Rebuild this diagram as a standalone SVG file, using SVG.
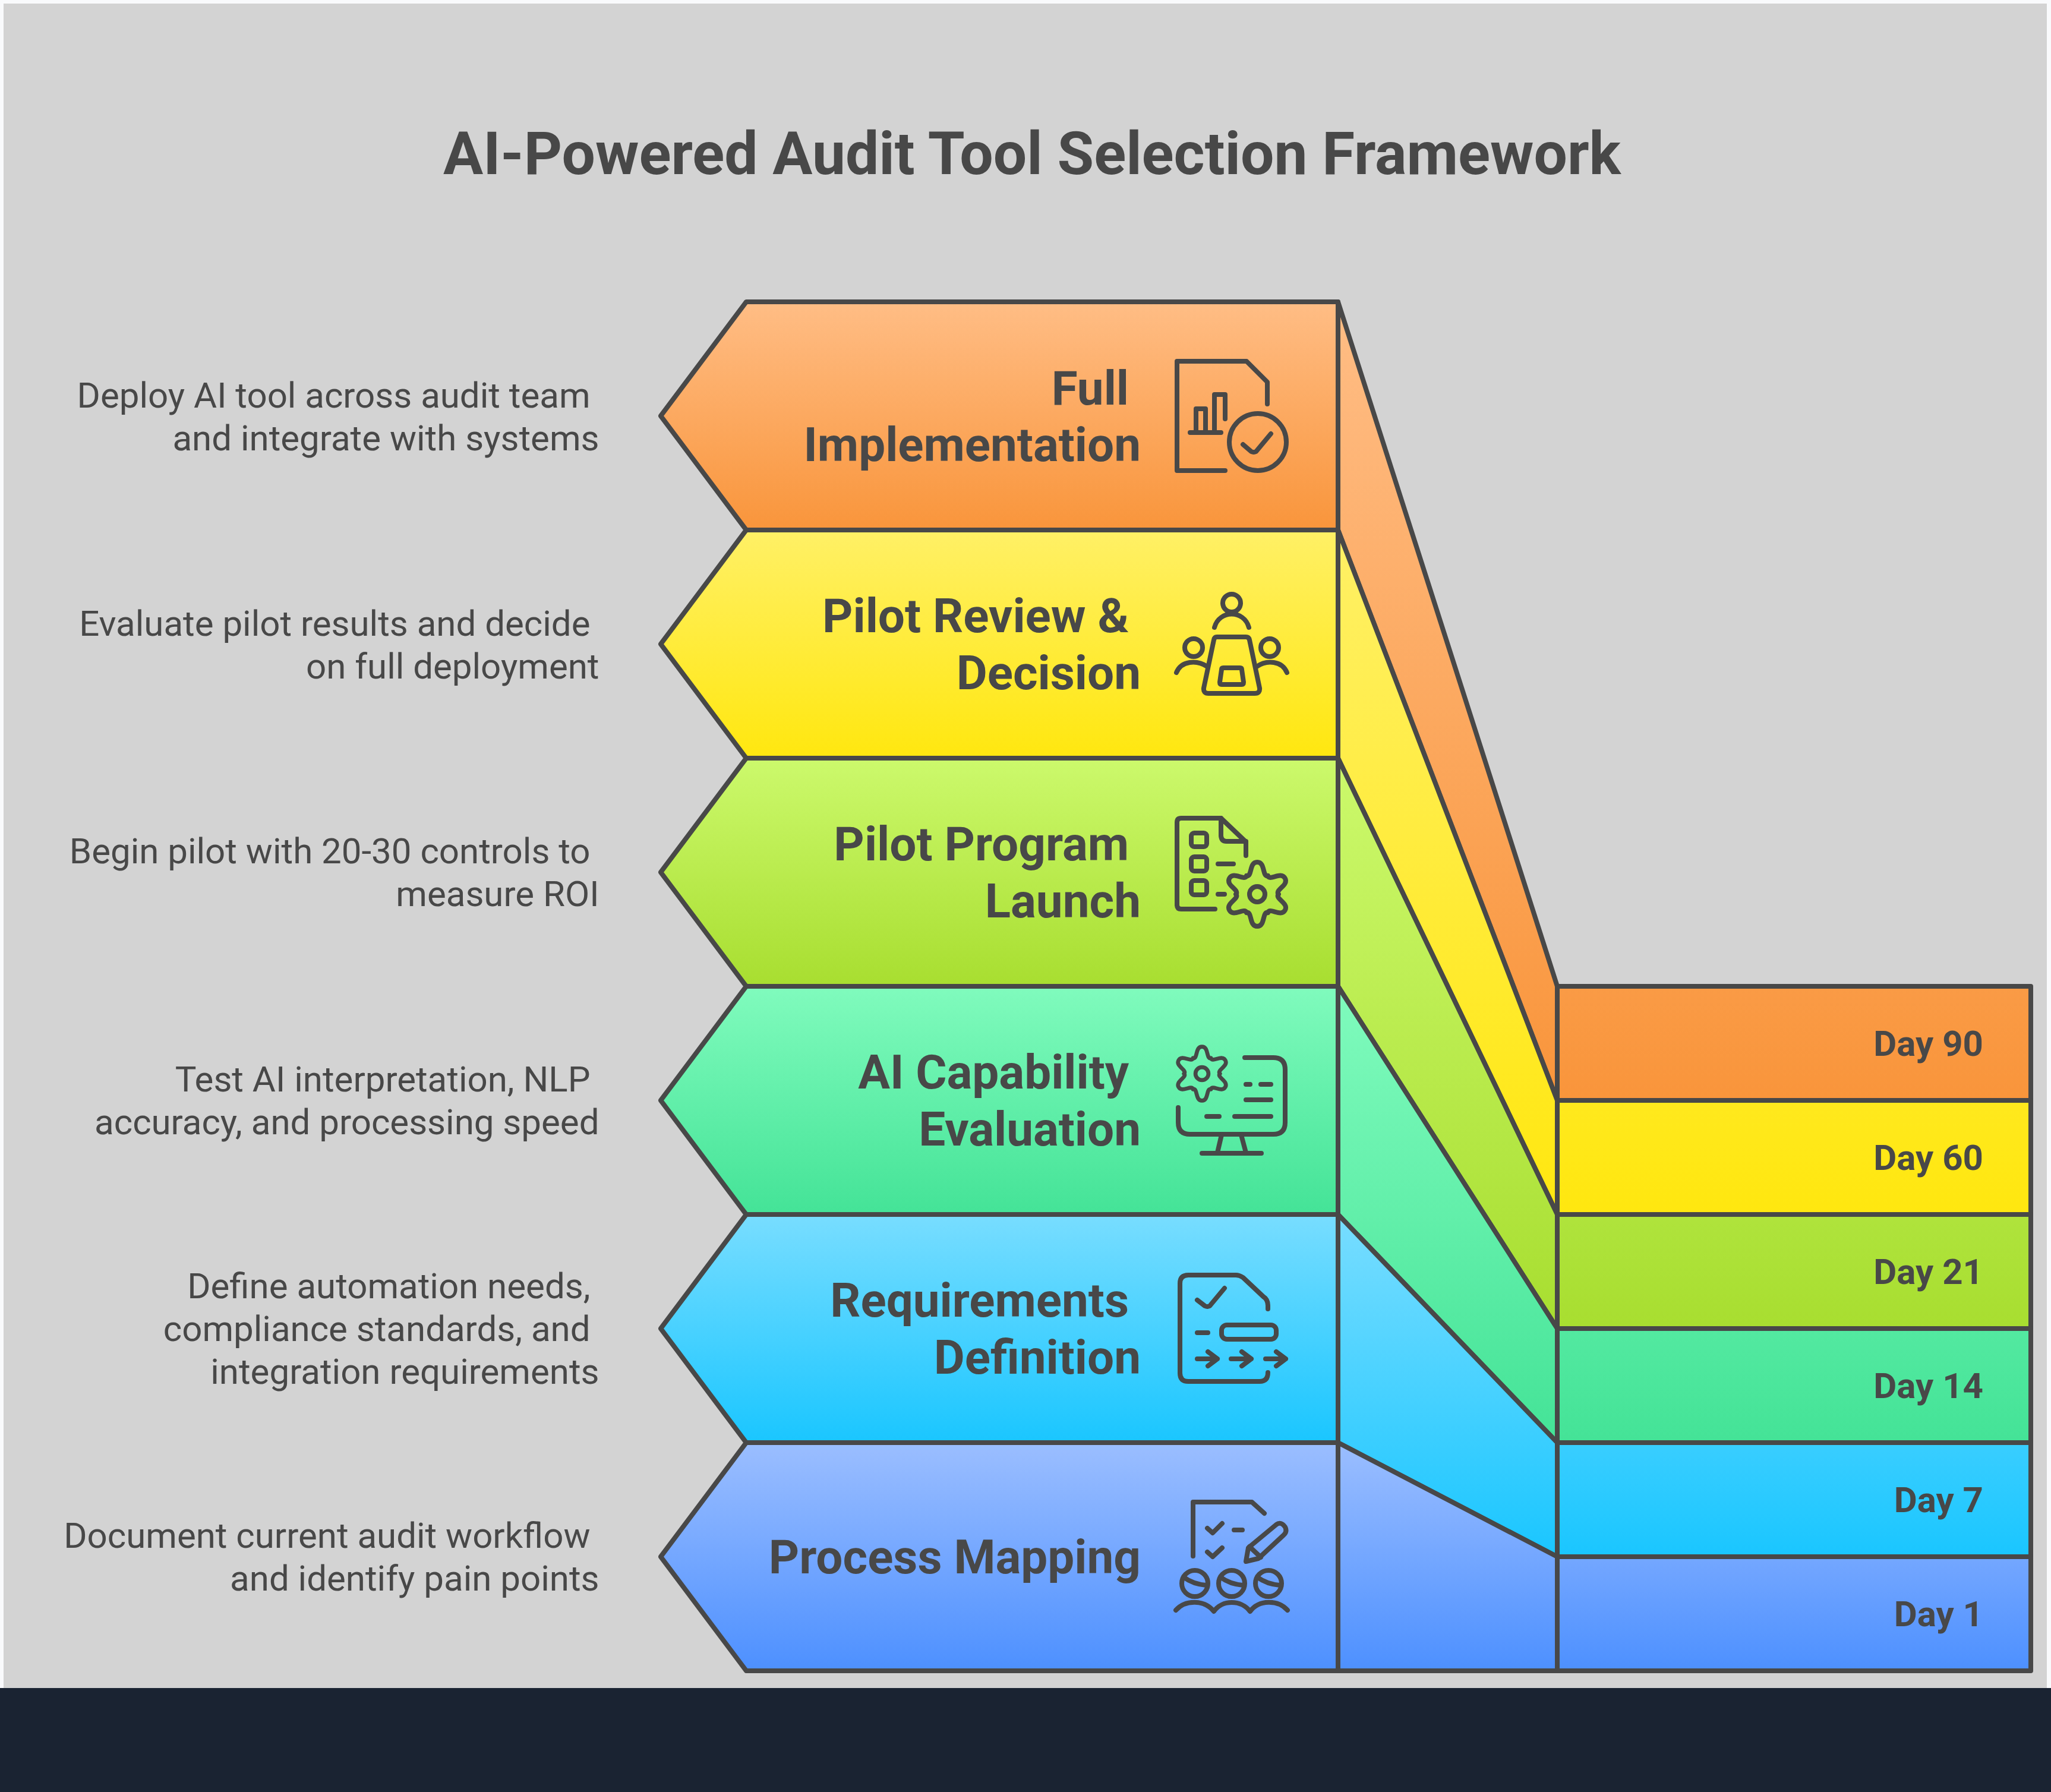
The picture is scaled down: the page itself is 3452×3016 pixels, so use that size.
<svg xmlns="http://www.w3.org/2000/svg" xmlns:xlink="http://www.w3.org/1999/xlink" width="3452" height="3016" viewBox="0 0 3452 3016">
<style>
.s{stroke:#484848;stroke-width:8;stroke-linejoin:round}
.i{fill:none;stroke:#484848;stroke-width:8;stroke-linecap:round;stroke-linejoin:round}
text{font-family:Roboto,"Liberation Sans",sans-serif;fill:#484848}
.t{font-size:100px;font-weight:700;text-anchor:middle}
.l{font-size:80px;font-weight:700;text-anchor:end}
.d{font-size:60px;font-weight:400;text-anchor:end}
.y{font-size:60px;font-weight:700;text-anchor:end}
</style>
<defs>
<linearGradient id="c1" x1="0" y1="0" x2="0" y2="1"><stop offset="0" stop-color="#FFBD85"/><stop offset="1" stop-color="#F9953B"/></linearGradient>
<linearGradient id="c2" x1="0" y1="0" x2="0" y2="1"><stop offset="0" stop-color="#FFF066"/><stop offset="1" stop-color="#FFE70F"/></linearGradient>
<linearGradient id="c3" x1="0" y1="0" x2="0" y2="1"><stop offset="0" stop-color="#CCF96C"/><stop offset="1" stop-color="#A8DE30"/></linearGradient>
<linearGradient id="c4" x1="0" y1="0" x2="0" y2="1"><stop offset="0" stop-color="#80FBBD"/><stop offset="1" stop-color="#44E397"/></linearGradient>
<linearGradient id="c5" x1="0" y1="0" x2="0" y2="1"><stop offset="0" stop-color="#78DDFF"/><stop offset="1" stop-color="#1AC6FF"/></linearGradient>
<linearGradient id="c6" x1="0" y1="0" x2="0" y2="1"><stop offset="0" stop-color="#9BBEFF"/><stop offset="1" stop-color="#4D90FF"/></linearGradient>
<linearGradient id="b1" gradientUnits="userSpaceOnUse" x1="0" y1="508" x2="0" y2="1852"><stop offset="0" stop-color="#FFBD85"/><stop offset="1" stop-color="#F9953B"/></linearGradient>
<linearGradient id="b2" gradientUnits="userSpaceOnUse" x1="0" y1="892" x2="0" y2="2044"><stop offset="0" stop-color="#FFF066"/><stop offset="1" stop-color="#FFE70F"/></linearGradient>
<linearGradient id="b3" gradientUnits="userSpaceOnUse" x1="0" y1="1276" x2="0" y2="2236"><stop offset="0" stop-color="#CCF96C"/><stop offset="1" stop-color="#A8DE30"/></linearGradient>
<linearGradient id="b4" gradientUnits="userSpaceOnUse" x1="0" y1="1660" x2="0" y2="2428"><stop offset="0" stop-color="#80FBBD"/><stop offset="1" stop-color="#44E397"/></linearGradient>
<linearGradient id="b5" gradientUnits="userSpaceOnUse" x1="0" y1="2044" x2="0" y2="2620"><stop offset="0" stop-color="#78DDFF"/><stop offset="1" stop-color="#1AC6FF"/></linearGradient>
<linearGradient id="b6" gradientUnits="userSpaceOnUse" x1="0" y1="2428" x2="0" y2="2812"><stop offset="0" stop-color="#9BBEFF"/><stop offset="1" stop-color="#4D90FF"/></linearGradient>
<path id="lobe" d="M-18-31C-8-29-14-54 0-54C14-54 8-29 18-31"/>
<g id="gear"><use xlink:href="#lobe"/><use xlink:href="#lobe" transform="rotate(60)"/><use xlink:href="#lobe" transform="rotate(120)"/><use xlink:href="#lobe" transform="rotate(180)"/><use xlink:href="#lobe" transform="rotate(240)"/><use xlink:href="#lobe" transform="rotate(300)"/><circle r="13"/></g>
</defs>
<rect width="3452" height="3016" fill="#F9FAFC"/>
<rect x="6" y="6" width="3439" height="2835" fill="#D3D3D3"/>
<rect x="0" y="2841" width="3452" height="175" fill="#1A2332"/>
<text id="title" class="t" x="1737" y="293">AI-Powered Audit Tool Selection Framework</text>
<g id="connectors" class="s">
<path fill="url(#b1)" d="M2252 508L2621 1660V1852L2252 892Z"/>
<path fill="url(#b2)" d="M2252 892L2621 1852V2044L2252 1276Z"/>
<path fill="url(#b3)" d="M2252 1276L2621 2044V2236L2252 1660Z"/>
<path fill="url(#b4)" d="M2252 1660L2621 2236V2428L2252 2044Z"/>
<path fill="url(#b5)" d="M2252 2044L2621 2428V2620L2252 2428Z"/>
<path fill="url(#b6)" d="M2252 2428L2621 2620V2812H2252Z"/>
</g>
<g id="node-full-implementation">
<path class="s" fill="url(#c1)" d="M1256 508H2252V892H1256L1112 700Z"/>
<text class="l" x="1900" y="681">Full</text><text class="l" x="1920" y="776">Implementation</text>
<g class="i"><path d="M2133 680V643L2098 608H1981V792H2062"/><path d="M2003 728H2055M2013 728V688H2029V728M2044 728V664H2062V705"/><circle cx="2117" cy="744" r="48"/><path d="M2092 748L2106 760Q2110 762 2114 760L2139 730"/></g>
<text class="d" x="993.500" y="686">Deploy AI tool across audit team</text><text class="d" x="1008.500" y="758">and integrate with systems</text>
</g>
<g id="node-pilot-review">
<path class="s" fill="url(#c2)" d="M1256 892H2252V1276H1256L1112 1084Z"/>
<text class="l" x="1900" y="1064">Pilot Review &amp;</text><text class="l" x="1920" y="1160">Decision</text>
<g class="i"><circle cx="2073" cy="1015" r="15"/><path d="M2044 1056C2052 1026 2094 1026 2102 1056"/><circle cx="2009" cy="1090" r="15"/><path d="M1980 1132C1988 1112 2014 1110 2032 1122"/><circle cx="2137" cy="1090" r="15"/><path d="M2166 1132C2158 1112 2132 1110 2115 1122"/><path d="M2048 1072H2097Q2102 1072 2103 1077L2120 1158Q2121 1167 2112 1167H2034Q2025 1167 2026 1158L2043 1077Q2044 1072 2048 1072Z"/><path d="M2059 1124H2087Q2090 1124 2090 1127L2093 1148Q2093 1152 2090 1152H2056Q2053 1152 2053 1148L2056 1127Q2056 1124 2059 1124Z"/></g>
<text class="d" x="993.500" y="1070">Evaluate pilot results and decide</text><text class="d" x="1008.500" y="1142">on full deployment</text>
</g>
<g id="node-pilot-program">
<path class="s" fill="url(#c3)" d="M1256 1276H2252V1660H1256L1112 1468Z"/>
<text class="l" x="1900" y="1448">Pilot Program</text><text class="l" x="1920" y="1544">Launch</text>
<g class="i"><path d="M2097 1440V1417L2055 1377H1988Q1981 1377 1981 1384V1523Q1981 1530 1988 1530H2045"/><path d="M2055 1377V1407Q2056 1416 2064 1416H2097"/><rect x="2005" y="1402" width="26" height="23" rx="5"/><rect x="2005" y="1442" width="26" height="24" rx="5"/><rect x="2005" y="1482" width="26" height="24" rx="5"/><path d="M2050 1454H2076M2050 1505H2061"/><use xlink:href="#gear" x="2116" y="1505"/></g>
<text class="d" x="993.500" y="1453">Begin pilot with 20-30 controls to</text><text class="d" x="1008.500" y="1525">measure ROI</text>
</g>
<g id="node-ai-capability">
<path class="s" fill="url(#c4)" d="M1256 1660H2252V2044H1256L1112 1852Z"/>
<text class="l" x="1900" y="1832">AI Capability</text><text class="l" x="1920" y="1928">Evaluation</text>
<g class="i"><path d="M2095 1780H2143Q2163 1780 2163 1800V1889Q2163 1909 2143 1909H2003Q1983 1909 1983 1889V1864"/><path d="M2097 1825H2104M2122 1825H2139M2097 1851H2139M2031 1879H2052M2078 1879H2139M2056 1910L2049 1940M2089 1910L2097 1940M2023 1941H2123"/><use xlink:href="#gear" transform="translate(2023 1807) scale(.84)"/></g>
<text class="d" x="993.500" y="1837">Test AI interpretation, NLP</text><text class="d" x="1008.500" y="1909">accuracy, and processing speed</text>
</g>
<g id="node-requirements">
<path class="s" fill="url(#c5)" d="M1256 2044H2252V2428H1256L1112 2236Z"/>
<text class="l" x="1900" y="2216">Requirements</text><text class="l" x="1920" y="2312">Definition</text>
<g class="i"><path d="M2134 2203V2197Q2134 2187 2126 2182L2092 2150Q2086 2146 2080 2146H2000Q1986 2146 1986 2160V2311Q1986 2325 2000 2325H2120Q2134 2325 2134 2310"/><path d="M2015 2188L2028 2198Q2032 2200 2036 2198L2061 2168M2015 2243H2033"/><rect x="2056" y="2230" width="92" height="24" rx="9"/><path d="M2015 2287H2049M2033 2275L2049 2287L2033 2299M2072 2287H2106M2090 2275L2106 2287L2090 2299M2130 2287H2164M2148 2275L2164 2287L2148 2299"/></g>
<text class="d" x="993.500" y="2185">Define automation needs,</text><text class="d" x="993.500" y="2257">compliance standards, and</text><text class="d" x="1008.500" y="2329">integration requirements</text>
</g>
<g id="node-process-mapping">
<path class="s" fill="url(#c6)" d="M1256 2428H2252V2812H1256L1112 2620Z"/>
<text class="l" x="1920" y="2648">Process Mapping</text>
<g class="i"><path d="M2008 2619V2528H2107L2128 2547"/><path d="M2032 2572L2041 2580L2057 2564M2032 2612L2041 2620L2057 2605M2077 2575H2091"/><path d="M2097 2628L2101 2605L2148 2566Q2156 2560 2163 2570Q2167 2578 2160 2584L2118 2623Z"/><path d="M2103 2603L2122 2621"/><circle cx="2011" cy="2665" r="22"/><circle cx="2073" cy="2665" r="22"/><circle cx="2135" cy="2665" r="22"/><path d="M1993 2655Q2008 2666 2030 2668M2055 2655Q2070 2666 2092 2668M2117 2655Q2132 2666 2154 2668"/><path d="M1979 2710C1995 2692 2027 2692 2043 2712C2057 2692 2089 2692 2104 2712C2119 2692 2151 2692 2167 2710"/></g>
<text class="d" x="993.500" y="2605">Document current audit workflow</text><text class="d" x="1008.500" y="2677">and identify pain points</text>
</g>
<g id="node-day-90"><rect class="s" fill="url(#b1)" x="2621" y="1660" width="797" height="192"/><text class="y" x="3338" y="1777">Day 90</text></g>
<g id="node-day-60"><rect class="s" fill="url(#b2)" x="2621" y="1852" width="797" height="192"/><text class="y" x="3338" y="1969">Day 60</text></g>
<g id="node-day-21"><rect class="s" fill="url(#b3)" x="2621" y="2044" width="797" height="192"/><text class="y" x="3338" y="2161">Day 21</text></g>
<g id="node-day-14"><rect class="s" fill="url(#b4)" x="2621" y="2236" width="797" height="192"/><text class="y" x="3338" y="2353">Day 14</text></g>
<g id="node-day-7"><rect class="s" fill="url(#b5)" x="2621" y="2428" width="797" height="192"/><text class="y" x="3338" y="2545">Day 7</text></g>
<g id="node-day-1"><rect class="s" fill="url(#b6)" x="2621" y="2620" width="797" height="192"/><text class="y" x="3338" y="2737">Day 1</text></g>
</svg>
